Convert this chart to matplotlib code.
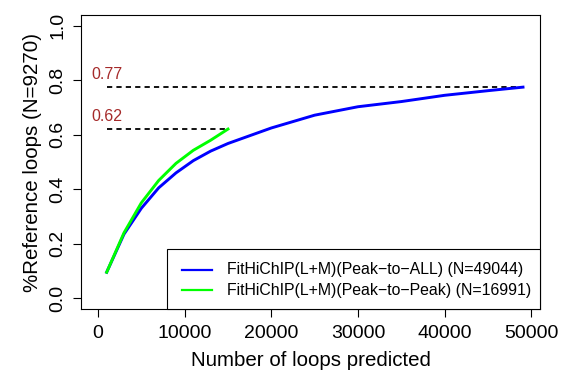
import matplotlib
matplotlib.use("Agg")
import matplotlib.pyplot as plt
from matplotlib.patches import Rectangle
from matplotlib.lines import Line2D

plt.rcParams['font.family'] = ['Liberation Sans', 'DejaVu Sans']

# Data
all_x = [1000, 3000, 5000, 7000, 9000, 11000, 13000, 15000, 20000, 25000,
         30000, 35000, 40000, 45000, 49044]
all_y = [0.095, 0.235, 0.33, 0.405, 0.46, 0.505, 0.54, 0.568, 0.625, 0.672,
         0.703, 0.722, 0.745, 0.762, 0.775]
p2p_x = [1000, 3000, 5000, 7000, 9000, 11000, 13000, 15000]
p2p_y = [0.095, 0.24, 0.35, 0.432, 0.495, 0.543, 0.58, 0.621]

series_labels = ["FitHiChIP(L+M)(Peak\u2212to\u2212ALL) (N=49044)",
                 "FitHiChIP(L+M)(Peak\u2212to\u2212Peak) (N=16991)"]
series_colors = ["#0000FF", "#00FF00"]
ref_values = [0.775, 0.621]
ref_labels = ["0.77", "0.62"]
ref_ends = [49044, 15000]
xticks = [0, 10000, 20000, 30000, 40000, 50000]
yticks = [0.0, 0.2, 0.4, 0.6, 0.8, 1.0]

W, H = 561, 376
fig = plt.figure(figsize=(W / 100, H / 100), dpi=100)
ax = fig.add_axes([81 / W, (H - 309) / H, (540 - 81) / W, (309 - 15) / H])

ax.plot(all_x, all_y, color=series_colors[0], lw=2.1,
        solid_joinstyle='round', zorder=3)
ax.plot(p2p_x, p2p_y, color=series_colors[1], lw=2.1,
        solid_joinstyle='round', zorder=3)

for v, lab, xe in zip(ref_values, ref_labels, ref_ends):
    ax.plot([all_x[0], xe], [v, v], color='black', lw=1.3,
            linestyle=(0, (2.9, 2.3)), zorder=2)
    ax.annotate(lab, xy=(all_x[0], v), xytext=(0, 3.5), textcoords='offset points',
                ha='center', va='bottom', color='#A52A2A', fontsize=11.5)

ax.set_xlim(-1962, 51006)
ax.set_ylim(-0.04, 1.04)
ax.set_xticks(xticks)
ax.set_xticklabels([str(t) for t in xticks])
ax.set_yticks(yticks)
ax.set_yticklabels(["%.1f" % t for t in yticks], rotation=90, va='center')
ax.tick_params(axis='both', direction='out', length=5.8, width=0.8,
               labelsize=14.0, colors='black')
ax.tick_params(axis='x', pad=6)
ax.tick_params(axis='y', pad=5)
for s in ax.spines.values():
    s.set_linewidth(0.8)

ax.set_xlabel("Number of loops predicted", fontsize=14.8, labelpad=6)
ax.set_ylabel("%Reference loops (N=9270)", fontsize=14.8, labelpad=5)

# Legend box (R-style, bottom-right, flush with plot region)
ax.add_patch(Rectangle((0.1874, 0.0), 1 - 0.1874, 0.2041, transform=ax.transAxes,
                       facecolor='white', edgecolor='black', lw=0.8, zorder=5,
                       clip_on=False))
for yy, lab, col in zip([0.1327, 0.0646], series_labels, series_colors):
    ax.add_line(Line2D([0.2200, 0.2854], [yy, yy], transform=ax.transAxes,
                       color=col, lw=1.6, zorder=6))
    ax.text(0.3181, yy, lab, transform=ax.transAxes, ha='left', va='center',
            fontsize=11.4, zorder=6)

fig.savefig("out.png", dpi=100)
